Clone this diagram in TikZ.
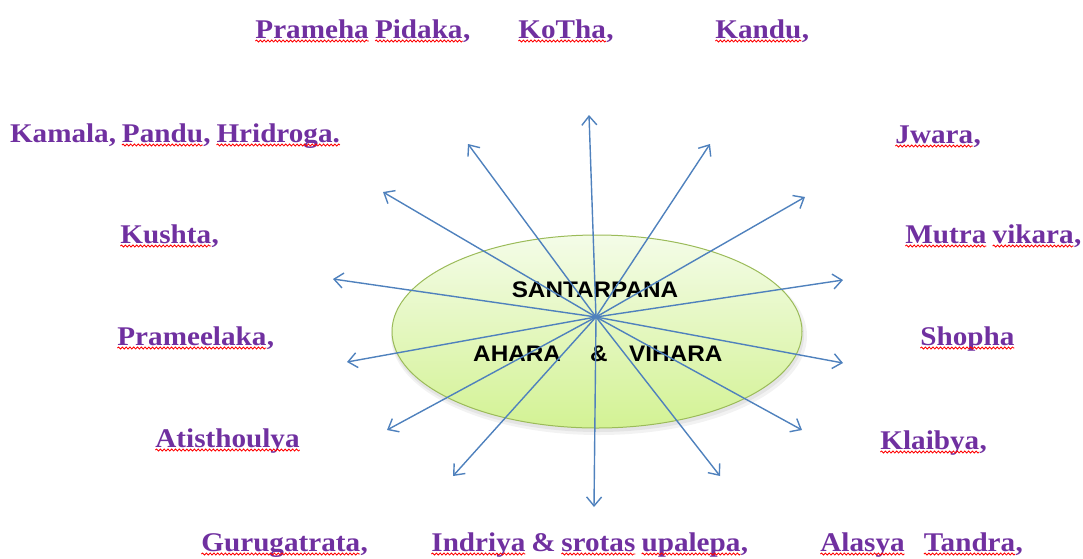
\documentclass[tikz,border=0pt]{standalone}
\usepackage{fontspec}
\setmainfont{Liberation Serif}
\newfontfamily\arialf{Liberation Sans}
\usetikzlibrary{arrows.meta,shapes.geometric,decorations.pathmorphing}
\definecolor{labpurple}{HTML}{7030A0}
\definecolor{arrblue}{HTML}{4F81BD}
\definecolor{ellborder}{HTML}{9BBB59}
\definecolor{elltop}{HTML}{F4FCE8}
\definecolor{ellbot}{HTML}{D3F294}
\newcommand\wide[1]{\scalebox{1.08}[1]{#1}}
\newcommand\sq[1]{\tikz[baseline=(w.base)]{\node[inner sep=0pt,outer sep=0pt,anchor=base west](w) at (0,0){#1};\draw[red,line width=0.8pt,decorate,decoration={snake,amplitude=1pt,segment length=3.5pt}]([yshift=-3pt]w.base west)--([yshift=-3pt]w.base east);}}
\newcommand\gap{\hspace{5pt}}
\tikzset{
  lab/.style={anchor=base west,inner sep=0pt,outer sep=0pt,text=labpurple,font=\fontsize{27}{30}\selectfont\bfseries},
  elltext/.style={anchor=base,inner sep=0pt,text=black,font=\arialf\fontsize{22.5}{26}\selectfont\bfseries},
  arr/.style={draw=arrblue,line width=1.4pt,-{Straight Barb[length=9pt,width=15pt]}}
}
\begin{document}
\begin{tikzpicture}[x=1pt,y=-1pt]
\useasboundingbox (0,0) rectangle (1083,558);
% ellipse shadow
\fill[black,opacity=0.05] (599,336) ellipse (208 and 99);
\fill[black,opacity=0.06] (598,335) ellipse (206 and 97);
\node[ellipse,draw=ellborder,line width=1pt,top color=elltop,bottom color=ellbot,minimum width=410pt,minimum height=193pt,inner sep=0pt] (ell) at (597,331.5) {};
\node[elltext] (t1) at (595,297) {\wide{SANTARPANA}};
\node[elltext,anchor=base west] (t2) at (473,361) {\wide{AHARA\hspace{27pt}\&\hspace{20pt}VIHARA}};
% arrows
\coordinate (c) at (596,317);
\coordinate (a1) at (589,115);
\coordinate (a2) at (710,144);
\coordinate (a3) at (805,197);
\coordinate (a4) at (843,280);
\coordinate (a5) at (843,363);
\coordinate (a6) at (802,430);
\coordinate (a7) at (720,476);
\coordinate (a8) at (594,507);
\coordinate (a9) at (453,476);
\coordinate (a10) at (387,430);
\coordinate (a11) at (347,362);
\coordinate (a12) at (333,279);
\coordinate (a13) at (383,192);
\coordinate (a14) at (468,144);
\foreach \i in {1,...,14} {\draw[arr] (c) -- (a\i);}
% labels
\node[lab] (l1) at (255,38) {\wide{\sq{Prameha}\gap\sq{Pidaka},}};
\node[lab] (l2) at (518,38) {\wide{\sq{KoTha},}};
\node[lab] (l3) at (715,38) {\wide{\sq{Kandu},}};
\node[lab] (l4) at (10,142) {\wide{Kamala,\gap\sq{Pandu},\gap\sq{Hridroga.}}};
\node[lab] (l5) at (895,143) {\wide{\sq{Jwara},}};
\node[lab] (l6) at (120,243) {\wide{\sq{Kushta},}};
\node[lab] (l7) at (905,243) {\wide{\sq{Mutra}\gap\sq{vikara},}};
\node[lab] (l8) at (117,345) {\wide{\sq{Prameelaka},}};
\node[lab] (l9) at (920,345) {\wide{\sq{Shopha}}};
\node[lab] (l10) at (155,447) {\wide{\sq{Atisthoulya}}};
\node[lab] (l11) at (880,449) {\wide{\sq{Klaibya},}};
\node[lab] (l12) at (201,551) {\wide{\sq{Gurugatrata},}};
\node[lab] (l13) at (431,551) {\wide{\sq{Indriya}\gap\&\gap\sq{srotas}\gap\sq{upalepa},}};
\node[lab] (l14) at (820,551) {\wide{\sq{Alasya}\hspace{17pt}\sq{Tandra},}};
\end{tikzpicture}
\end{document}
